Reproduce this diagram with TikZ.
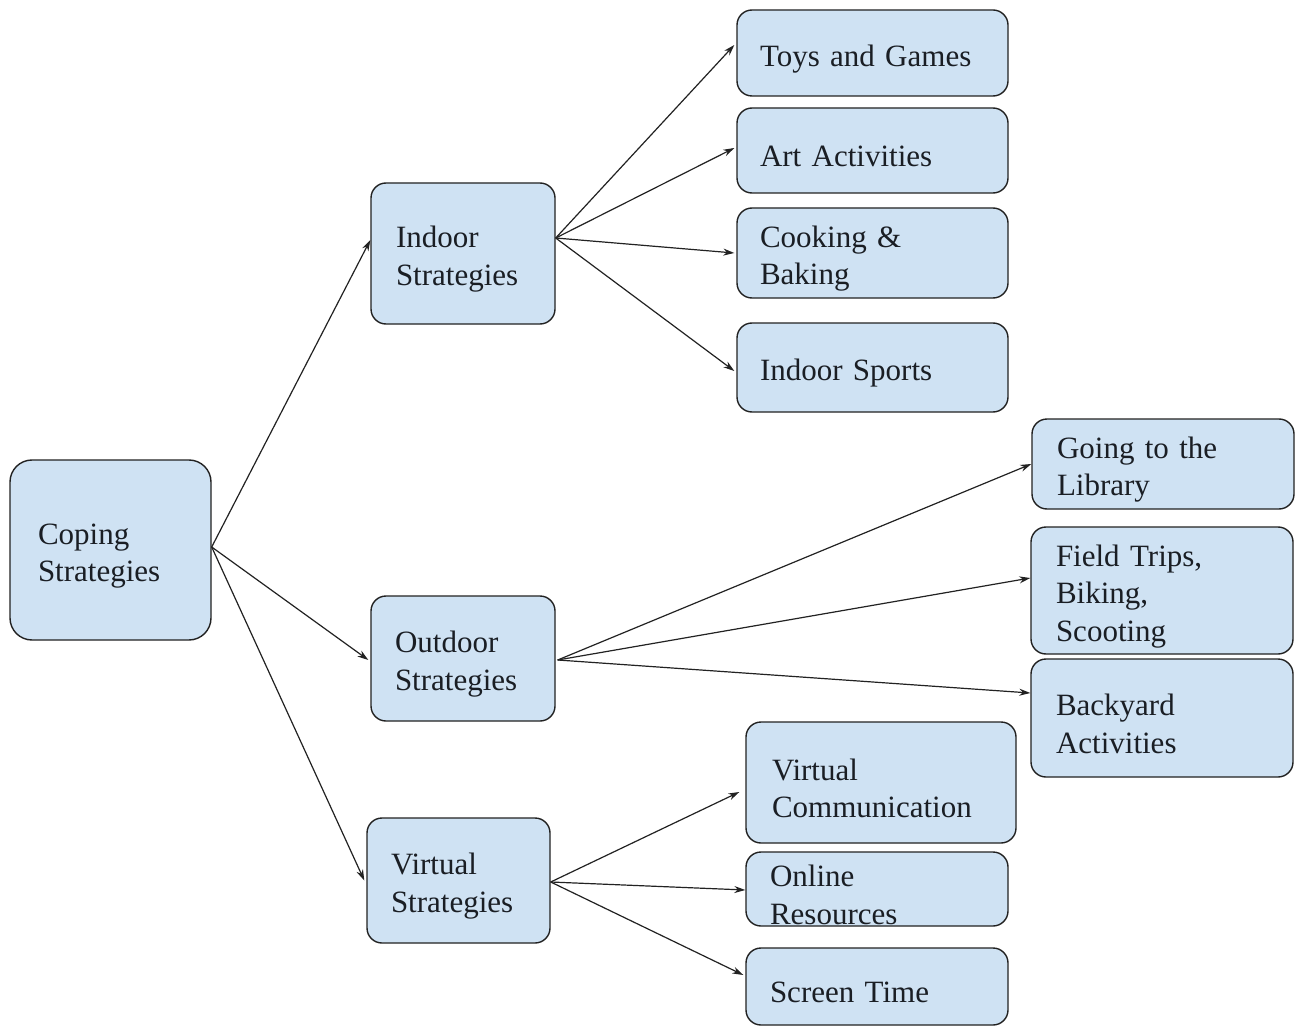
\documentclass[tikz,border=0pt]{standalone}
\usepackage{fontspec}
\setmainfont{Liberation Serif}
\usetikzlibrary{arrows.meta}
\definecolor{boxfill}{HTML}{CFE2F3}
\definecolor{bord}{HTML}{222222}
\definecolor{txt}{HTML}{1A1E24}
\begin{document}
\begin{tikzpicture}[x=1pt,y=1pt,
  bx/.style={draw=bord, fill=boxfill, rounded corners=15pt, line width=1.4pt,
    align=left, text=txt, font=\fontsize{31}{37.5}\selectfont, inner ysep=0pt,
    execute at begin node={\rule{0pt}{33pt}}},
  conn/.style={line width=1.2pt, draw=bord, -{Stealth[length=11pt,width=7pt]}}]
\useasboundingbox[fill=white] (0,0) rectangle (1299,-1027);

\node[bx, rounded corners=22pt, text width=145pt, inner xsep=28pt, minimum height=180pt] (coping) at (110.5,-550) {Coping\\Strategies};

\node[bx, text width=134pt, inner xsep=25pt, minimum height=141pt] (indoor) at (463,-253.5) {Indoor\\Strategies};
\node[bx, text width=136pt, inner xsep=24pt, minimum height=125pt] (outdoor) at (463,-658.5) {Outdoor\\Strategies};
\node[bx, text width=135pt, inner xsep=24pt, minimum height=125pt] (virtual) at (458.5,-880.5) {Virtual\\Strategies};

\node[bx, text width=225pt, inner xsep=23pt, minimum height=86pt] (toys) at (872.5,-53) {Toys and Games};
\node[bx, text width=225pt, inner xsep=23pt, minimum height=85pt] (art) at (872.5,-150.5) {Art Activities};
\node[bx, text width=225pt, inner xsep=23pt, minimum height=90pt] (cooking) at (872.5,-253) {Cooking \&\\Baking};
\node[bx, text width=225pt, inner xsep=23pt, minimum height=89pt] (sports) at (872.5,-367.5) {Indoor Sports};

\node[bx, text width=212pt, inner xsep=25pt, minimum height=90pt] (library) at (1163,-464) {Going to the\\Library};
\node[bx, text width=212pt, inner xsep=25pt, minimum height=127pt] (field) at (1162,-590.5) {Field Trips,\\Biking,\\Scooting};
\node[bx, text width=212pt, inner xsep=25pt, minimum height=118pt] (backyard) at (1162,-718) {Backyard\\Activities};

\node[bx, text width=218pt, inner xsep=26pt, minimum height=121pt] (vc) at (881,-782.5) {Virtual\\Communication};
\node[bx, text width=214pt, inner xsep=24pt, minimum height=74pt] (online) at (877,-889) {Online\\Resources};
\node[bx, text width=214pt, inner xsep=24pt, minimum height=77pt] (screen) at (877,-986.5) {Screen Time};

\draw[conn] ([yshift=3pt]coping.east) -- ([yshift=13.5pt]indoor.west);
\draw[conn] ([yshift=3pt]coping.east) -- ([xshift=-2pt,yshift=-1.5pt]outdoor.west);
\draw[conn] ([yshift=3pt]coping.east) -- ([xshift=-2pt]virtual.west);

\draw[conn] ([yshift=15.5pt]indoor.east) -- ([xshift=-2pt,yshift=8pt]toys.west);
\draw[conn] ([yshift=15.5pt]indoor.east) -- ([xshift=-2pt,yshift=2.5pt]art.west);
\draw[conn] ([yshift=15.5pt]indoor.east) -- ([xshift=-2pt]cooking.west);
\draw[conn] ([yshift=15.5pt]indoor.east) -- ([xshift=-2pt,yshift=-3.5pt]sports.west);

\draw[conn] ([xshift=2pt,yshift=-1.5pt]outdoor.east) -- (library.west);
\draw[conn] ([xshift=2pt,yshift=-1.5pt]outdoor.east) -- ([yshift=12.5pt]field.west);
\draw[conn] ([xshift=2pt,yshift=-1.5pt]outdoor.east) -- ([yshift=25pt]backyard.west);

\draw[conn] ([yshift=-1.5pt]virtual.east) -- ([xshift=-6pt,yshift=-9.5pt]vc.west);
\draw[conn] ([yshift=-1.5pt]virtual.east) -- ([yshift=-1pt]online.west);
\draw[conn] ([yshift=-1.5pt]virtual.east) -- ([xshift=-2pt,yshift=11.5pt]screen.west);
\end{tikzpicture}
\end{document}
